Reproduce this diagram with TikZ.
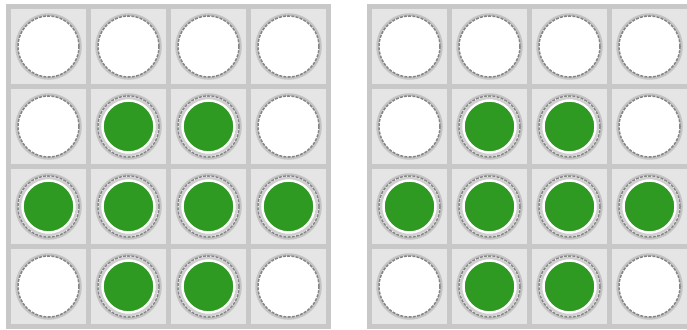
\documentclass[tikz,border=0pt]{standalone}
\definecolor{gridgrey}{HTML}{C8C8C8}
\definecolor{cellgrey}{HTML}{E5E5E5}
\definecolor{halogrey}{HTML}{C4C4C4}
\definecolor{ringgrey}{HTML}{858585}
\definecolor{innergrey}{HTML}{CFCFCF}
\definecolor{peggreen}{HTML}{2F9A22}
\tikzset{
  gridbox/.style={fill=gridgrey},
  cellbox/.style={fill=cellgrey},
  holehalo/.style={circle, inner sep=0pt, minimum size=64pt, draw=halogrey, line width=2.5pt},
  hole/.style={circle, inner sep=0pt, minimum size=61pt, fill=white, draw=ringgrey, line width=1.5pt, dash pattern=on 3pt off 1.2pt},
  pegshadow/.style={circle, inner sep=0pt, minimum size=57pt, draw=innergrey, line width=2.5pt},
  peg/.style={circle, inner sep=0pt, minimum size=51pt, fill=peggreen, draw=white, line width=1.5pt}
}
\begin{document}
\begin{tikzpicture}[x=1pt,y=-1pt]
\useasboundingbox (0,0) rectangle (687,329);
\clip (0,0) rectangle (687,329);
\foreach \g/\s in {6/L,367/R}{
  \fill[gridbox] (\g,4) rectangle ++(325,325);
  \foreach \i in {0,...,3}{
    \foreach \j in {0,...,3}{
      \fill[cellbox] (\g+5+80*\i,9+80*\j) rectangle ++(75,75);
      \node[holehalo] (\s-halo-\i-\j) at (\g+42.5+80*\i,46.5+80*\j) {};
      \node[hole] (\s-\i-\j) at (\g+42.5+80*\i,46.5+80*\j) {};
    }
  }
  \foreach \i/\j in {1/1,2/1,0/2,1/2,2/2,3/2,1/3,2/3}{
    \node[pegshadow] (\s-shadow-\i-\j) at (\s-\i-\j.center) {};
    \node[peg] (\s-peg-\i-\j) at (\s-\i-\j.center) {};
  }
}
\end{tikzpicture}
\end{document}
